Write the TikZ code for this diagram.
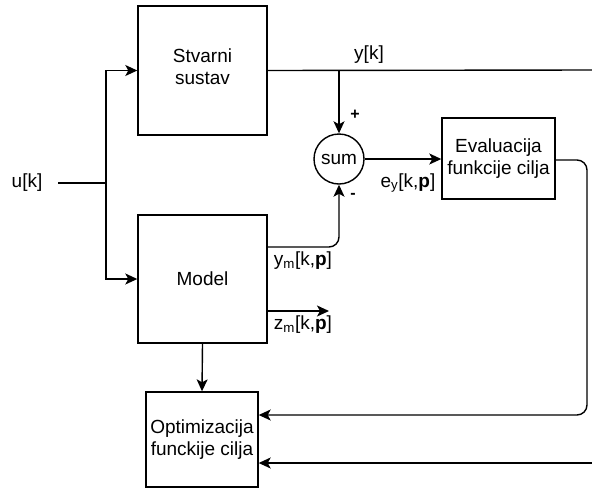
\documentclass[tikz,border=0pt]{standalone}
\usepackage{fontspec}
\setmainfont{Liberation Sans}
\usetikzlibrary{arrows.meta}
\begin{document}
\begin{tikzpicture}[x=1pt,y=-1pt,
  every node/.style={font=\fontsize{19}{22}\selectfont},
  blk/.style={draw,line width=1.4pt,align=center,inner sep=0pt},
  wire/.style={line width=1.4pt},
  arr/.style={wire,-{Stealth[length=12pt,width=11pt,inset=3pt]}},
  lbl/.style={inner sep=0pt},
  small/.style={font=\fontsize{16}{18}\selectfont\bfseries}]
\useasboundingbox (0,0) rectangle (592,488);
\node[blk,minimum width=129,minimum height=129] (sys) at (202.5,70.5) {};
\node[align=center,inner sep=0pt] (systxt) at (202.5,67) {Stvarni\\sustav};
\node[blk,minimum width=129,minimum height=128] (model) at (202.5,279) {Model};
\node[blk,minimum width=112,minimum height=95] (opt) at (202,439.5) {Optimizacija\\funckije cilja};
\node[blk,minimum width=113,minimum height=81] (eval) at (498.5,158.5) {Evaluacija\\funkcije cilja};
\node[draw,circle,line width=1.4pt,minimum size=50,inner sep=0pt] (sum) at (339,159) {sum};
\node[lbl] (u) at (27,183) {u[k]};
\coordinate (ustart) at (58,183);
\coordinate (j) at (106,183);
\coordinate (yend) at (592,70);
\coordinate (yb) at (339,70);
\coordinate (ebend) at (587,160);
\coordinate (rend) at (592,463);
\coordinate (zend) at (329,311);
% input
\draw[wire] (ustart) -- (j);
\draw[arr] (j) |- (sys.west);
\draw[arr] (j) |- (model.west);
% y[k]
\draw[wire] (sys.east) -- (yend);
\node[lbl] (ylab) at (369,55) {y[k]};
\draw[arr] (yb) -- (sum.north);
\node[lbl,small] (plus) at (355,115) {+};
\node[lbl,small] (minus) at (353,196) {-};
% ym
\draw[arr,rounded corners=10] (model.east |- 0,247) -| (sum.south);
\node[lbl] (ymlab) at (303,261) {y\textsubscript{m}[k,\textbf{p}]};
% zm
\draw[arr] (model.east |- zend) -- (zend);
\node[lbl] (zmlab) at (303,325) {z\textsubscript{m}[k,\textbf{p}]};
% sum -> eval
\draw[arr] (sum.east) -- (eval.west |- sum.east);
\node[lbl] (eylab) at (408,183) {e\textsubscript{y}[k,\textbf{p}]};
% eval -> opt
\draw[arr,rounded corners=10] (eval.east |- ebend) -- (ebend) |- (opt.east |- 0,415);
\draw[arr] (rend) -- (opt.east |- rend);
% model -> opt
\draw[arr] (model.south) -- (opt.north);
\end{tikzpicture}
\end{document}
